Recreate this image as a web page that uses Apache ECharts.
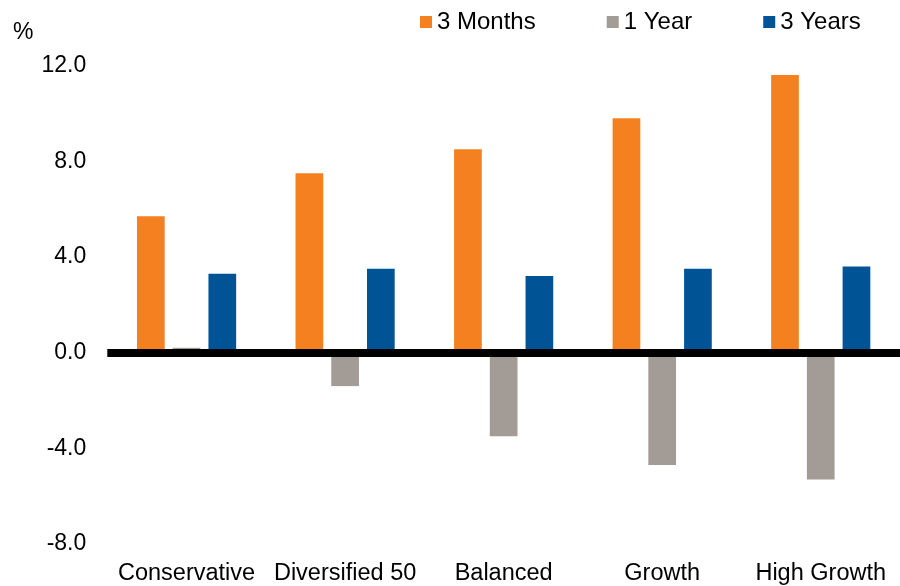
<!DOCTYPE html>
<html>
<head>
<meta charset="utf-8">
<script src="https://cdn.jsdelivr.net/npm/echarts@6/dist/echarts.min.js"></script>
<style>html,body{margin:0;padding:0;background:#fff;}#c{width:900px;height:586px;}</style>
</head>
<body>
<div id="c"></div>
<script>
var categories = ['Conservative', 'Diversified 50', 'Balanced', 'Growth', 'High Growth'];
var seriesNames = ['3 Months', '1 Year', '3 Years'];
var threeMonths = [5.7, 7.5, 8.5, 9.8, 11.6];
var oneYear = [0.2, -1.4, -3.5, -4.7, -5.3];
var threeYears = [3.3, 3.5, 3.2, 3.5, 3.6];
var yTicks = [-8, -4, 0, 4, 8, 12];

var FONT = 'Liberation Sans, Arial, sans-serif';
var colors = ['#F5801F', '#A39B95', '#005496'];

var chart = echarts.init(document.getElementById('c'));
chart.setOption({
  animation: false,
  color: colors,
  textStyle: { fontFamily: FONT },
  grid: { left: 107.3, right: -4.3, top: 65.5, bottom: 40.8, containLabel: false },
  legend: {
    data: seriesNames,
    left: 420, top: 10, padding: 0,
    icon: 'rect', itemWidth: 12, itemHeight: 12, itemGap: 71,
    textStyle: { fontSize: 24, color: '#000', fontFamily: FONT, lineHeight: 24 }
  },
  graphic: [{
    type: 'text', left: 13, top: 21,
    style: { text: '%', fontSize: 23, fill: '#000', fontFamily: FONT }
  }],
  xAxis: [{
    type: 'category', data: categories,
    axisLine: { show: false, onZero: false },
    axisTick: { show: false },
    axisLabel: { fontSize: 23.5, color: '#000', margin: 18, fontFamily: FONT, interval: 0 },
    splitLine: { show: false }
  }, {
    type: 'category', data: categories, position: 'bottom', z: 10,
    axisLine: { show: true, onZero: true, lineStyle: { color: '#000', width: 8, cap: 'butt' } },
    axisTick: { show: false },
    axisLabel: { show: false },
    splitLine: { show: false }
  }],
  yAxis: {
    type: 'value', min: yTicks[0], max: yTicks[yTicks.length - 1], interval: 4,
    axisLine: { show: false }, axisTick: { show: false }, splitLine: { show: false },
    axisLabel: { fontSize: 23, color: '#000', margin: 21, fontFamily: FONT, padding: [4, 0, 0, 0],
      formatter: function (v) { return v.toFixed(1); } }
  },
  series: [
    { name: seriesNames[0], type: 'bar', xAxisIndex: 0, data: threeMonths, barWidth: 27.7, barGap: '29%' },
    { name: seriesNames[1], type: 'bar', xAxisIndex: 0, data: oneYear, barWidth: 27.7, barGap: '29%' },
    { name: seriesNames[2], type: 'bar', xAxisIndex: 0, data: threeYears, barWidth: 27.7, barGap: '29%' }
  ]
});
</script>
</body>
</html>
